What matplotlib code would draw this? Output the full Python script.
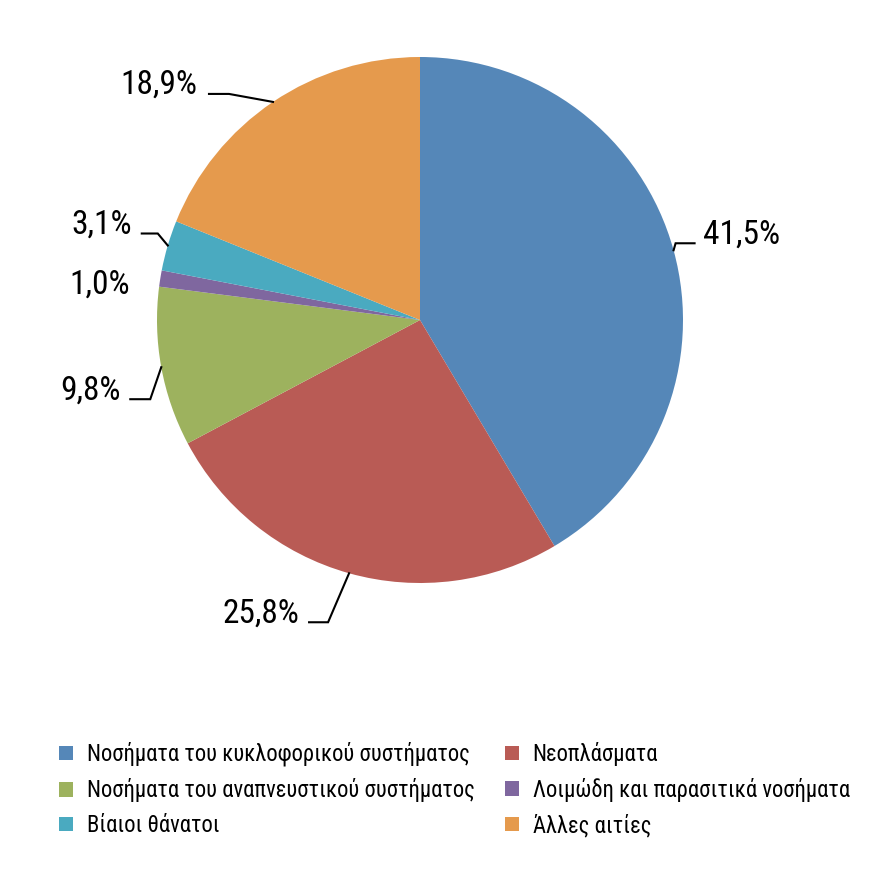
import numpy as np
import matplotlib
matplotlib.use("Agg")
import matplotlib.pyplot as plt

plt.rcParams['font.family'] = ['Roboto Condensed', 'DejaVu Sans']

# data
labels = ["Νοσήματα του κυκλοφορικού συστήματος", "Νεοπλάσματα",
          "Νοσήματα του αναπνευστικού συστήματος", "Λοιμώδη και παρασιτικά νοσήματα",
          "Βίαιοι θάνατοι", "Άλλες αιτίες"]
values = [41.5, 25.8, 9.8, 1.0, 3.1, 18.9]
pct_text = ["41,5%", "25,8%", "9,8%", "1,0%", "3,1%", "18,9%"]
colors = ["#5587b8", "#b95b55", "#9db25e", "#7f679f", "#4aaac0", "#e59a4d"]

W, H = 888, 891
R = 263  # pie radius in px
cx, cy = 420, 320

fig = plt.figure(figsize=(W / 100, H / 100), dpi=100)
ax = fig.add_axes([(cx - R) / W, 1 - (cy + R) / H, 2 * R / W, 2 * R / H])
wedges, _ = ax.pie(values, colors=colors, startangle=90, counterclock=False,
                   radius=1, wedgeprops=dict(linewidth=0))
ax.set_xlim(-1, 1)
ax.set_ylim(-1, 1)
ax.set_aspect('equal')
ax.axis('off')

# leader lines, offsets from the slice edge in px (x right, y up):
# elbow, line end, then text gap (text baseline sits on the line)
leaders = [
    ((2, 7), (21, 7), 8, 'left'),        # blue
    ((-21, -49), (-40, -49), 10, 'right'),  # red
    ((-11, -32), (-31, -32), 10, 'right'),  # green
    (None, (-30, -15), 0, 'right'),       # purple, no line
    ((-10, 12), (-26, 12), 10, 'right'),  # cyan
    ((-44, 8), (-64, 8), 12, 'right'),    # orange
]

total = sum(values)
cum = 0
for i, v in enumerate(values):
    mid = 90 - (cum + v / 2) / total * 360
    cum += v
    ex, ey = np.cos(np.radians(mid)), np.sin(np.radians(mid))
    elbow, end, gap, ha = leaders[i]
    tx, ty = ex + end[0] / R, ey + end[1] / R
    if elbow is not None:
        ax.plot([ex, ex + elbow[0] / R, tx], [ey, ey + elbow[1] / R, ty],
                color='black', linewidth=1.5, clip_on=False,
                solid_joinstyle='miter')
    tx += gap / R if ha == 'left' else -gap / R
    ax.text(tx, ty, pct_text[i], ha=ha, va='baseline', fontsize=24)

order = [0, 2, 4, 1, 3, 5]
leg = fig.legend([wedges[k] for k in order], [labels[k] for k in order],
                 ncol=2, loc='upper left', bbox_to_anchor=(59 / W, 1 - 742 / H),
                 frameon=False, fontsize=16.3, handlelength=0.62, handleheight=0.62,
                 handletextpad=0.6, columnspacing=1.35, labelspacing=0.52,
                 borderpad=0, borderaxespad=0)

fig.savefig("out.png", dpi=100)
